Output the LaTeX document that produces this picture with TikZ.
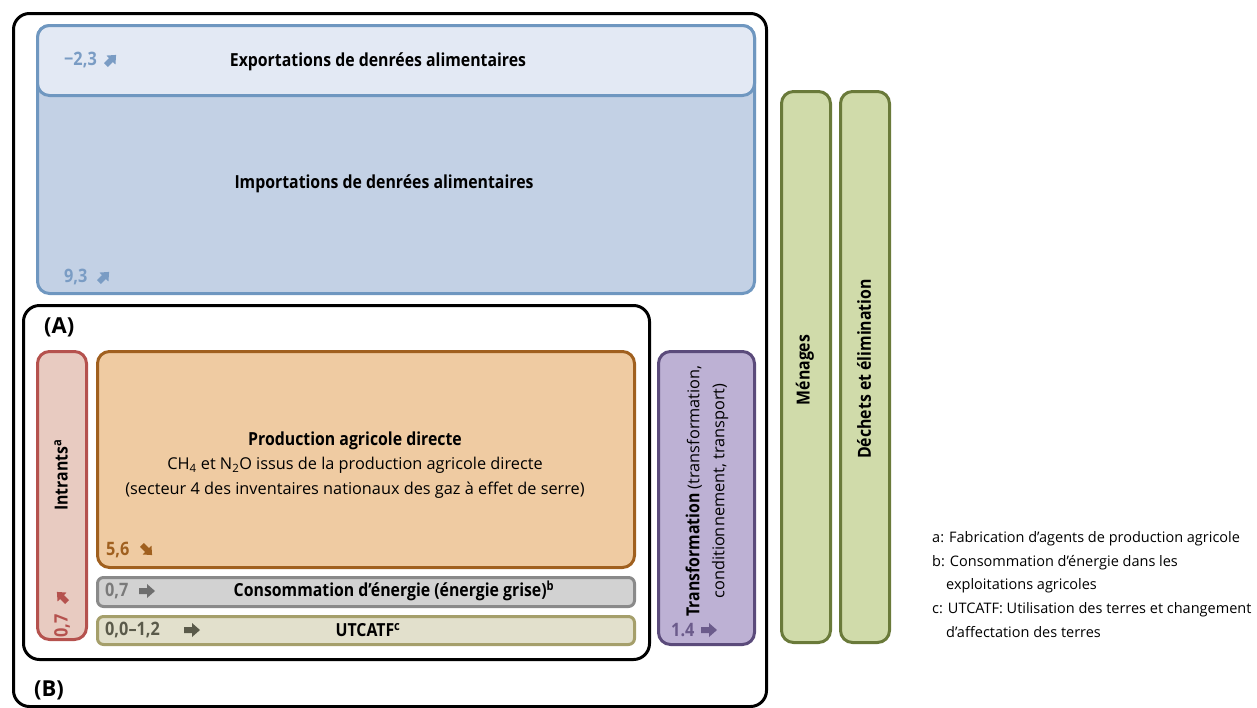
\documentclass[tikz,border=0pt]{standalone}
\usepackage{fontspec}
\setmainfont{Open Sans}
\newfontfamily\cond{Open Sans}[FakeStretch=0.88]
\definecolor{bluestroke}{HTML}{6F97C0}
\definecolor{bluetext}{HTML}{7A9CC4}
\definecolor{expfill}{HTML}{E3E9F4}
\definecolor{impfill}{HTML}{C3D1E5}
\definecolor{redstroke}{HTML}{B5524E}
\definecolor{redfill}{HTML}{E8CBC1}
\definecolor{brownstroke}{HTML}{A0601F}
\definecolor{brownfill}{HTML}{EFCBA2}
\definecolor{graystroke}{HTML}{8A8A8A}
\definecolor{grayfill}{HTML}{D2D2D2}
\definecolor{graytext}{HTML}{7A7A7A}
\definecolor{olivestroke}{HTML}{A59F6B}
\definecolor{olivefill}{HTML}{E2E0CC}
\definecolor{olivetext}{HTML}{5A5A4A}
\definecolor{purplestroke}{HTML}{5B4B7B}
\definecolor{purplefill}{HTML}{BDB1D4}
\definecolor{purpletext}{HTML}{6B5B8B}
\definecolor{greenstroke}{HTML}{6A7A3A}
\definecolor{greenfill}{HTML}{D0DBAA}
\begin{document}
\begin{tikzpicture}[x=1pt,y=-1pt,
  box/.style={rounded corners=12pt, line width=3pt, draw, inner sep=0pt, anchor=north west},
  frame/.style={rounded corners=16pt, line width=3pt, draw=black, inner sep=0pt, anchor=north west},
  title/.style={font=\cond\fontsize{18}{21}\selectfont\bfseries, inner sep=0pt},
  val/.style={font=\cond\fontsize{18.5}{21}\selectfont\bfseries, inner sep=0pt, anchor=west},
  lbl/.style={font=\fontsize{22}{26}\selectfont\bfseries, inner sep=0pt, anchor=west},
  legend/.style={font=\fontsize{14.5}{17}\selectfont, inner sep=0pt, anchor=base west},
  fatarr/.pic={\fill (-8,-3) -- (0,-3) -- (0,-7) -- (8,0) -- (0,7) -- (0,3) -- (-8,3) -- cycle;}]
\useasboundingbox (0,0) rectangle (1257,707);
% outer frame B
\node[frame, minimum width=753pt, minimum height=693pt] (B) at (12,12) {};
% imports / exports
\node[box, fill=impfill, draw=bluestroke, minimum width=717pt, minimum height=268pt] (imp) at (36,24) {};
\node[box, fill=expfill, draw=bluestroke, minimum width=717pt, minimum height=70pt] (exp) at (36,24) {};
\node[val, text=bluetext] (expv) at (64,60) {−2,3};
\pic[fill=bluetext, rotate=45, scale=0.9] at (111,60) {fatarr};
\node[title] (expt) at (378,62) {Exportations de denrées alimentaires};
\node[title] (impt) at (384,184) {Importations de denrées alimentaires};
\node[val, text=bluetext] (impv) at (64,277) {9,3};
\pic[fill=bluetext, rotate=45, scale=0.9] at (104,277) {fatarr};
% frame A
\node[frame, minimum width=626pt, minimum height=354pt] (A) at (22,304) {};
\node[lbl] (Alab) at (44,327) {(A)};
\node[lbl] (Blab) at (34,690) {(B)};
% Intrants
\node[box, fill=redfill, draw=redstroke, minimum width=49pt, minimum height=288pt] (intr) at (36,350) {};
\node[title, rotate=90] (intrt) at (61,475) {Intrants\textsuperscript{a}};
\node[val, rotate=90, text=redstroke] (intrv) at (62,638) {0,7};
\pic[fill=redstroke, rotate=135, scale=0.9] at (62,597) {fatarr};
% Production
\node[box, fill=brownfill, draw=brownstroke, minimum width=537pt, minimum height=216pt] (prod) at (96,350) {};
\node[inner sep=0pt, align=center, font=\fontsize{16.3}{24.5}\selectfont] (prodt) at (355,465)
  {{\cond\bfseries\fontsize{18}{24.5}\selectfont Production agricole directe}\\
   CH\textsubscript{4} et N\textsubscript{2}O issus de la production agricole directe\\
   (secteur 4 des inventaires nationaux des gaz à effet de serre)};
\node[val, text=brownstroke] (prodv) at (106,550) {5,6};
\pic[fill=brownstroke, rotate=-45, scale=0.9] at (147,550) {fatarr};
% Consommation
\node[box, rounded corners=6pt, fill=grayfill, draw=graystroke, minimum width=537pt, minimum height=29pt] (cons) at (96,576) {};
\node[val, text=graytext] (consv) at (105,591) {0,7};
\pic[fill=graytext!90!black] at (147,591) {fatarr};
\node[title] (const) at (394,591) {Consommation d’énergie (énergie grise)\textsuperscript{b}};
% UTCATF
\node[box, rounded corners=6pt, fill=olivefill, draw=olivestroke, minimum width=537pt, minimum height=28pt] (utc) at (96,615) {};
\node[val, text=olivetext] (utcv) at (105,630) {0,0–1,2};
\pic[fill=olivetext] at (192,630) {fatarr};
\node[title] (utct) at (368,630) {UTCATF\textsuperscript{c}};
% Transformation
\node[box, fill=purplefill, draw=purplestroke, minimum width=96pt, minimum height=293pt] (trans) at (657,350) {};
\node[inner sep=0pt, rotate=90, align=center, font=\fontsize{16.3}{25}\selectfont] (transt) at (707,491)
  {{\cond\bfseries\fontsize{18}{25}\selectfont Transformation} (transformation,\\ conditionnement, transport)};
\node[val, text=purpletext] (transv) at (671,630) {1.4};
\pic[fill=purpletext] at (709,630) {fatarr};
% Menages / Dechets
\node[box, fill=greenfill, draw=greenstroke, minimum width=49pt, minimum height=551pt] (men) at (780,90) {};
\node[box, fill=greenfill, draw=greenstroke, minimum width=49pt, minimum height=551pt] (dech) at (839,90) {};
\node[title, rotate=90] (ment) at (805,370) {Ménages};
\node[title, rotate=90] (decht) at (864,369) {Déchets et élimination};
% legend
\node[legend] (leg1) at (932,542) {a: Fabrication d’agents de production agricole};
\node[legend] (leg2) at (932,566) {b: Consommation d’énergie dans les};
\node[legend] (leg3) at (946,589) {exploitations agricoles};
\node[legend] (leg4) at (932,613) {c: UTCATF: Utilisation des terres et changement};
\node[legend] (leg5) at (946,637) {d’affectation des terres};
\end{tikzpicture}
\end{document}
